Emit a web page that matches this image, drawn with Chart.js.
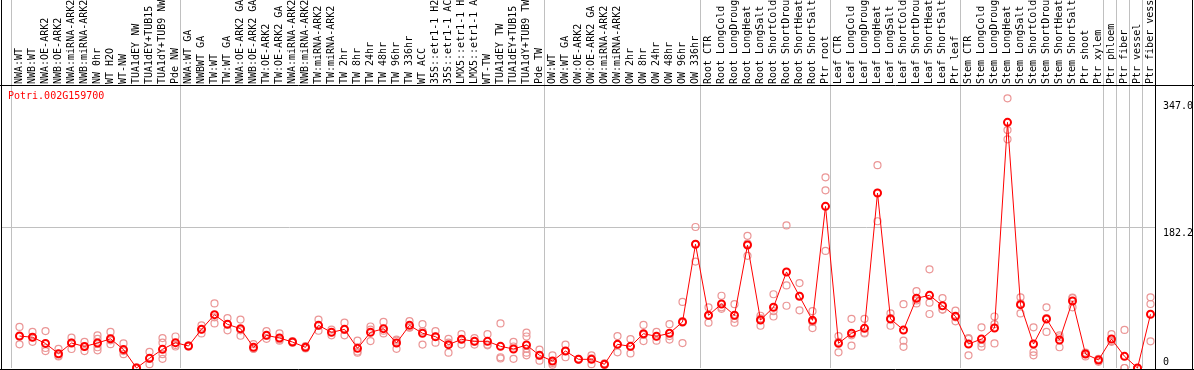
<!DOCTYPE html>
<html><head><meta charset="utf-8">
<script src="https://cdn.jsdelivr.net/npm/chart.js@4.4.1/dist/chart.umd.min.js"></script>
<style>html,body{margin:0;padding:0;background:#fff;overflow:hidden}canvas{display:block}</style>
</head><body>
<canvas id="c" width="1194" height="370"></canvas>
<script>
const geneTitle = 'Potri.002G159700';

const categories = [
  'NWA:WT','NWB:WT','NWA:OE-ARK2','NWB:OE-ARK2','NWA:miRNA-ARK2','NWB:miRNA-ARK2','NW 0hr','WT H2O','WT-NW',
  'TUA1dEY NW','TUA1dEY+TUB15 NW','TUA1dY+TUB9 NW','Pde NW',
  'NWA:WT GA','NWBWT GA','TW:WT','TW:WT GA','NWA:OE-ARK2 GA','NWB:OE-ARK2 GA','TW:OE-ARK2','TW:OE-ARK2 GA',
  'NWA:miRNA-ARK2 GA','NWB:miRNA-ARK2 GA','TW:miRNA-ARK2','TW:miRNA-ARK2 GA','TW 2hr','TW 8hr','TW 24hr','TW 48hr',
  'TW 96hr','TW 336hr','WT ACC','35S::etr1-1 H2O','35S::etr1-1 ACC','LMX5::etr1-1 H2O','LMX5::etr1-1 ACC','WT-TW',
  'TUA1dEY TW','TUA1dEY+TUB15 TW','TUA1dY+TUB9 TW','Pde TW',
  'OW:WT','OW:WT GA','OW:OE-ARK2','OW:OE-ARK2 GA','OW:miRNA-ARK2','OW:miRNA-ARK2 GA','OW 2hr','OW 8hr','OW 24hr',
  'OW 48hr','OW 96hr','OW 336hr',
  'Root CTR','Root LongCold','Root LongDrought','Root LongHeat','Root LongSalt','Root ShortCold','Root ShortDrought',
  'Root ShortHeat','Root ShortSalt','Ptr root',
  'Leaf CTR','Leaf LongCold','Leaf LongDrought','Leaf LongHeat','Leaf LongSalt','Leaf ShortCold','Leaf ShortDrought',
  'Leaf ShortHeat','Leaf ShortSalt','Ptr leaf',
  'Stem CTR','Stem LongCold','Stem LongDrought','Stem LongHeat','Stem LongSalt','Stem ShortCold','Stem ShortDrought',
  'Stem ShortHeat','Stem ShortSalt','Ptr shoot','Ptr xylem',
  'Ptr phloem','Ptr fiber','Ptr vessel','Ptr fiber vessel'
];

// index of the first category of each group (a gray separator is drawn before it)
const groupStarts = [0, 13, 41, 53, 63, 73, 84, 85, 86, 87];

const meanValues = [
  41.6, 40, 32, 18.6, 32.5, 28, 32.5, 38, 24, 0, 12.6, 24.3, 33,
  28.6, 50.3, 69.4, 56.8, 51.2, 26.9, 42.5, 39, 33.8, 26.9, 55.5, 46.4, 50.3, 25.6, 46.4, 51.2,
  32.5, 55.5, 45.2, 40.8, 30.4, 37.3, 34.7, 34.7, 28.2, 24.7, 29.9, 16.5,
  9.1, 22.1, 11.3, 11.3, 4.8, 30.8, 28.2, 44.6, 41.2, 45.2, 59.9, 161,
  68.6, 83.3, 68.6, 160, 62.5, 79, 125, 93.3, 62, 210.4,
  32.1, 45.2, 51.6, 227.7, 63.8, 49.5, 90.7, 94.6, 81, 67.2,
  31.2, 37.7, 52, 319.7, 82.4, 31.2, 63.8, 36.4, 87.2, 18.2, 10.4,
  37.7, 15.2, 0, 69.9
];

const replicateValues = [
  [53.4,30.8,41],[47,34,40],[48,22,26],[25,15,16],[39.5,24.7,33],[34,22,28],[42.5,38,23,27],[47,31,36],
  [32,18,22],[0,0,1],[21,5,12],[39,33,18,12],[41,28,30],
  [29,28,29],[55.5,45,50],[84,58,66],[65,49,57],[63,42,49],[31,25,25],[48,38,42],[45,35.5,37],[34,33,35],
  [28.5,25.5,27],[63,48.5,55],[50,42.5,46.5],[59,42.5,49.5],[35.5,20,21.5],[54,35,50],[60,45,48.5],
  [35.5,25,37],[61,53,52.5],[57,30.5,48],[48,33,41],[38,20,33],[44,30.5,37.5],[39,30.5,34.5],[44,29.5,30.5],
  [58,14,12.5],[34,12,28],[46,41,25,20,16.5],[24,9.5,16],
  [16.5,4.3,6.5],[30.4,14,22],[11,11,12],[16.5,5,12.5],[6,4,4.5],[41.6,20.4,30.5],[37.7,19,28],[56,35,43],
  [47,35.5,41],[57,37,41.5],[86,32.5,61],[183.5,138.5,161],
  [79,59,68],[94,77,79],[83,59,64],[172,146,162],[68,55,64.5],[96,67,74],[185.5,107.5,81],[110.5,75,94],
  [74,52,60],[248.2,231.2,152.3],
  [41.6,20.4,34],[64,29,42.5],[64,45,46],[264,191,228],[71,55,65],[83,35.5,27.5],[100,84,88],[128.4,85,70.3],
  [91,76,76],[74.6,60.8,66],
  [39,16.5,38],[53,32.1,27.7],[67,32,57],[351,309.7,297.6],[92,71,84],[53,20.8,16.5],[79,47,65],[42.5,27,40],
  [91,79,91.5],[20,15,19.5],[12,8,11],
  [44,34,35],[49.5,0,0],[0,0,0],[92,83.3,34.7]
];

const yTickValues = [0, 182.2, 347.0];
const yTickLabels = ['0', '182.2', '347.0'];

// ---- layout helpers (not data) ----
const SLOT = 13;                    // px per category
const AREA_LEFT = 1, AREA_RIGHT = 1155, FIRST_CENTER = 19.5, FIRST_EDGE = 11;
const xMin = (AREA_LEFT - FIRST_CENTER) / SLOT;
const xMax = (AREA_RIGHT - FIRST_CENTER) / SLOT;
const edgeShift = (FIRST_EDGE - FIRST_CENTER) / SLOT;
const boundaryValues = groupStarts.map(k => k + edgeShift);
const isBoundary = v => boundaryValues.some(b => Math.abs(b - v) < 1e-6);

const FONT = { family: '"DejaVu Sans Mono", monospace', size: 10 };
const GRID_GRAY = '#c0c0c0';
const NONE = 'rgba(0,0,0,0)';

const framePlugin = {
  id: 'frame',
  afterDraw(chart) {
    const { ctx, width, height, chartArea: a } = chart;
    ctx.save();
    ctx.strokeStyle = '#000';
    ctx.lineWidth = 1;
    ctx.beginPath();
    ctx.moveTo(1.5, 0); ctx.lineTo(1.5, height);
    ctx.moveTo(0, a.top + 0.5); ctx.lineTo(width, a.top + 0.5);
    ctx.moveTo(0, a.bottom + 1.5); ctx.lineTo(width, a.bottom + 1.5);
    ctx.moveTo(a.right + 0.5, 0); ctx.lineTo(a.right + 0.5, height);
    ctx.moveTo(width - 1.5, 0); ctx.lineTo(width - 1.5, height);
    ctx.stroke();
    ctx.font = '10px "DejaVu Sans Mono", monospace';
    ctx.fillStyle = '#ff0000';
    ctx.textBaseline = 'top';
    ctx.textAlign = 'left';
    ctx.fillText(geneTitle, a.left + 7, a.top + 6);
    ctx.restore();
  }
};

new Chart(document.getElementById('c'), {
  type: 'scatter',
  data: {
    datasets: [
      {
        label: 'mean',
        data: meanValues.map((v, i) => ({ x: i, y: v })),
        showLine: true,
        borderColor: '#ff0000',
        borderWidth: 1,
        pointRadius: 3.5,
        pointBorderWidth: 2,
        pointBorderColor: '#ff0000',
        pointBackgroundColor: NONE,
        clip: 6
      },
      {
        label: 'replicates',
        data: replicateValues.flatMap((arr, i) => arr.map(v => ({ x: i, y: v }))),
        showLine: false,
        pointRadius: 3.5,
        pointBorderWidth: 1.2,
        pointBorderColor: '#eb9696',
        pointBackgroundColor: NONE,
        clip: 6
      }
    ]
  },
  options: {
    responsive: false,
    animation: false,
    devicePixelRatio: 1,
    layout: { autoPadding: false, padding: { left: 1, right: 0, top: 0, bottom: 2 } },
    plugins: { legend: { display: false }, tooltip: { enabled: false }, title: { display: false } },
    scales: {
      x: {
        type: 'linear',
        position: 'top',
        min: xMin,
        max: xMax,
        afterBuildTicks: s => {
          const t = categories.map((_, i) => ({ value: i })).concat(boundaryValues.map(v => ({ value: v })));
          t.sort((a, b) => a.value - b.value);
          s.ticks = t;
        },
        afterFit: s => { s.height = 85; s.paddingLeft = 0; s.paddingRight = 0; },
        grid: {
          color: ctx => (ctx.tick && isBoundary(ctx.tick.value)) ? GRID_GRAY : NONE,
          lineWidth: 1,
          tickLength: 85,
          drawTicks: true
        },
        border: { display: false },
        ticks: {
          autoSkip: false,
          minRotation: 90,
          maxRotation: 90,
          padding: -84,
          labelOffset: 12,
          font: FONT,
          color: '#000',
          callback: v => (Number.isInteger(v) && categories[v] !== undefined) ? categories[v] : ''
        }
      },
      y: {
        type: 'linear',
        position: 'right',
        min: 0,
        max: 368.3,
        afterBuildTicks: s => { s.ticks = yTickValues.map(v => ({ value: v })); },
        afterFit: s => { s.width = 39; s.paddingTop = 0; s.paddingBottom = 0; },
        grid: {
          color: ctx => (ctx.tick && Math.abs(ctx.tick.value - 182.2) < 0.01) ? GRID_GRAY : NONE,
          drawTicks: false,
          tickLength: 0
        },
        border: { display: false },
        ticks: {
          align: 'start',
          padding: 8,
          font: ctx => (ctx.tick && ctx.tick.value === 0) ? { ...FONT, lineHeight: 2.1 } : FONT,
          color: '#000',
          callback: (v) => {
            const i = yTickValues.findIndex(t => Math.abs(t - v) < 1e-6);
            const lab = i >= 0 ? yTickLabels[i] : '';
            return v === 0 ? [lab, ''] : lab;
          }
        }
      }
    }
  },
  plugins: [framePlugin]
});
</script>
</body></html>
